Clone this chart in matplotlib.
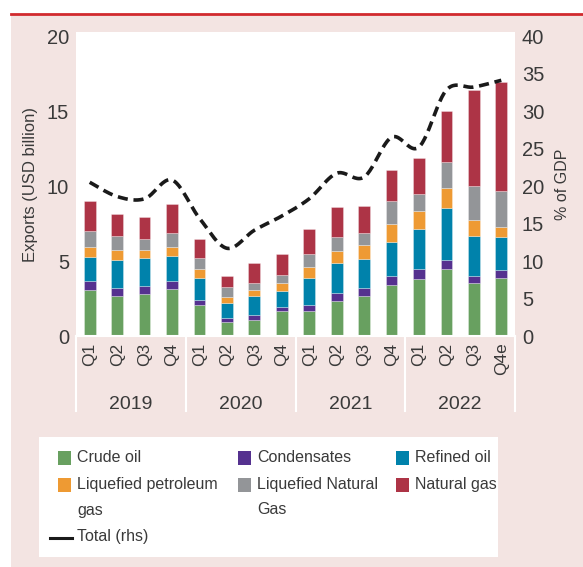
import matplotlib

matplotlib.use("Agg")

import matplotlib.pyplot as plt
import numpy as np
from matplotlib.lines import Line2D
from matplotlib.patches import Rectangle

plt.rcParams["font.family"] = ["Liberation Sans", "DejaVu Sans"]

QUARTERS = ["Q1", "Q2", "Q3", "Q4", "Q1", "Q2", "Q3", "Q4",
            "Q1", "Q2", "Q3", "Q4", "Q1", "Q2", "Q3", "Q4e"]
YEARS = ["2019", "2020", "2021", "2022"]

# USD billion, per quarter
crude_oil = [3.1, 2.65, 2.8, 3.15, 2.1, 0.95, 1.1, 1.65, 1.7, 2.35, 2.7, 3.4, 3.8, 4.5, 3.55, 3.9]
condensates = [0.55, 0.55, 0.55, 0.5, 0.3, 0.25, 0.3, 0.3, 0.35, 0.55, 0.5, 0.6, 0.7, 0.55, 0.45, 0.5]
refined_oil = [1.6, 1.85, 1.85, 1.7, 1.5, 1.0, 1.25, 1.05, 1.85, 2.0, 1.95, 2.3, 2.65, 3.5, 2.7, 2.2]
lpg = [0.7, 0.7, 0.55, 0.6, 0.55, 0.4, 0.45, 0.55, 0.7, 0.8, 0.9, 1.2, 1.2, 1.3, 1.05, 0.65]
lng = [1.05, 0.95, 0.75, 0.95, 0.75, 0.65, 0.45, 0.5, 0.85, 0.9, 0.85, 1.5, 1.15, 1.75, 2.25, 2.45]
natural_gas = [2.0, 1.45, 1.45, 1.9, 1.25, 0.75, 1.3, 1.45, 1.7, 2.0, 1.75, 2.1, 2.4, 3.4, 6.4, 7.25]

# total exports, % of GDP (rhs)
total_gdp = [20.5, 18.6, 18.3, 20.8, 15.7, 11.7, 14.1, 16.0, 18.3, 21.7, 21.2, 26.5, 25.2, 32.8, 33.2, 34.1]

SERIES = [
    ("Crude oil", crude_oil, "#68a060"),
    ("Condensates", condensates, "#55318f"),
    ("Refined oil", refined_oil, "#0082ab"),
    ("Liquefied petroleum\ngas", lpg, "#ee9a33"),
    ("Liquefied Natural\nGas", lng, "#939598"),
    ("Natural gas", natural_gas, "#ad3446"),
]

TEXT = "#3a3a3a"
PINK = "#f3e4e2"
LINE = "#1a1a1a"
W, H = 583, 567


def px(x, y):
    # pixel (from top-left) -> figure fraction
    return x / W, 1 - y / H


def smooth(x, y, n=24):
    # catmull-rom through the quarterly points, just for drawing
    p = np.column_stack([x, y]).astype(float)
    p = np.vstack([p[0], p, p[-1]])
    out = []
    t = np.linspace(0, 1, n, endpoint=False)[:, None]
    for i in range(1, len(p) - 2):
        p0, p1, p2, p3 = p[i - 1], p[i], p[i + 1], p[i + 2]
        out.append(0.5 * (2 * p1 + (-p0 + p2) * t + (2 * p0 - 5 * p1 + 4 * p2 - p3) * t ** 2
                          + (-p0 + 3 * p1 - 3 * p2 + p3) * t ** 3))
    out.append(p[-2][None, :])
    pts = np.vstack(out)
    return pts[:, 0], pts[:, 1]


fig = plt.figure(figsize=(W / 100, H / 100), dpi=100, facecolor="white")
fig.patches.append(Rectangle((11 / W, 0), 1 - 11 / W, (H - 14) / H, transform=fig.transFigure,
                             facecolor=PINK, edgecolor="none", zorder=-10))
fig.lines.append(Line2D([11 / W, 1], [(H - 13.5) / H] * 2, transform=fig.transFigure,
                        color="#d12a2e", linewidth=2))

ax = fig.add_axes([76 / W, (H - 336) / H, (515 - 76) / W, (336 - 32) / H])
ax.set_facecolor("white")
x = np.arange(len(QUARTERS))
bottom = np.zeros(len(x))
for label, vals, color in SERIES:
    ax.bar(x, vals, bottom=bottom, width=0.43, color=color, edgecolor=(1, 1, 1, 0.35), linewidth=0.6)
    bottom += np.array(vals)

ax.set_xlim(-0.5, len(x) - 0.5)
ax.set_ylim(0, 20.27)
ax.set_yticks([0, 5, 10, 15, 20])
ax.set_xticks([])
for s in ax.spines.values():
    s.set_visible(False)
ax.tick_params(axis="y", length=0, pad=5, labelsize=14.5, labelcolor=TEXT)
ax.set_ylabel("Exports (USD billion)", fontsize=12, color=TEXT, labelpad=6)

ax2 = ax.twinx()
ax2.set_ylim(0, 40.54)
ax2.set_yticks([0, 5, 10, 15, 20, 25, 30, 35, 40])
for s in ax2.spines.values():
    s.set_visible(False)
ax2.tick_params(axis="y", length=0, pad=5, labelsize=14.5, labelcolor=TEXT)
ax2.set_ylabel("% of GDP", fontsize=11.5, color=TEXT, labelpad=8)
sx, sy = smooth(x, total_gdp)
ax2.plot(sx, sy, color=LINE, linewidth=2.6, linestyle=(0, (2.8, 1.6)))

# category labels under the bars
tr = ax.get_xaxis_transform()
for xi, q in zip(x, QUARTERS):
    ax.text(xi, -0.022, q, rotation=90, ha="center", va="top", fontsize=12.5, color=TEXT, transform=tr)
for i, yr in enumerate(YEARS):
    ax.text(4 * i + 1.5, -0.224, yr, ha="center", va="center", fontsize=14, color=TEXT, transform=tr)
for xs in [-0.5, 3.5, 7.5, 11.5, 15.5]:
    ax.plot([xs, xs], [0, -0.248], color="white", linewidth=1.5, transform=tr, clip_on=False)
ax.plot([-0.5, 15.5], [0, 0], color="white", linewidth=1.5, transform=tr, clip_on=False)

# legend box, laid out by hand to match the three-column layout
fig.patches.append(Rectangle(px(39, 557), 459 / W, 120 / H, transform=fig.transFigure,
                             facecolor="white", edgecolor="none", zorder=-5))
col_x = [58, 238, 396]
row_y = [457.5, 485]
for i, (label, vals, color) in enumerate(SERIES):
    r, c = divmod(i, 3)
    cx, cy = col_x[c], row_y[r]
    fig.patches.append(Rectangle(px(cx, cy + 7), 13 / W, 14 / H, transform=fig.transFigure,
                                 facecolor=color, edgecolor="none"))
    for k, part in enumerate(label.split("\n")):
        fig.text(*px(cx + 19, cy + 25 * k), part, ha="left", va="center", fontsize=11.5, color=TEXT)
fig.lines.append(Line2D([50 / W, 71.5 / W], [1 - 537.5 / H] * 2, transform=fig.transFigure,
                        color=LINE, linewidth=2.2))
fig.text(*px(77, 537), "Total (rhs)", ha="left", va="center", fontsize=11.5, color=TEXT)

fig.savefig("out.png", dpi=100, facecolor="white")
